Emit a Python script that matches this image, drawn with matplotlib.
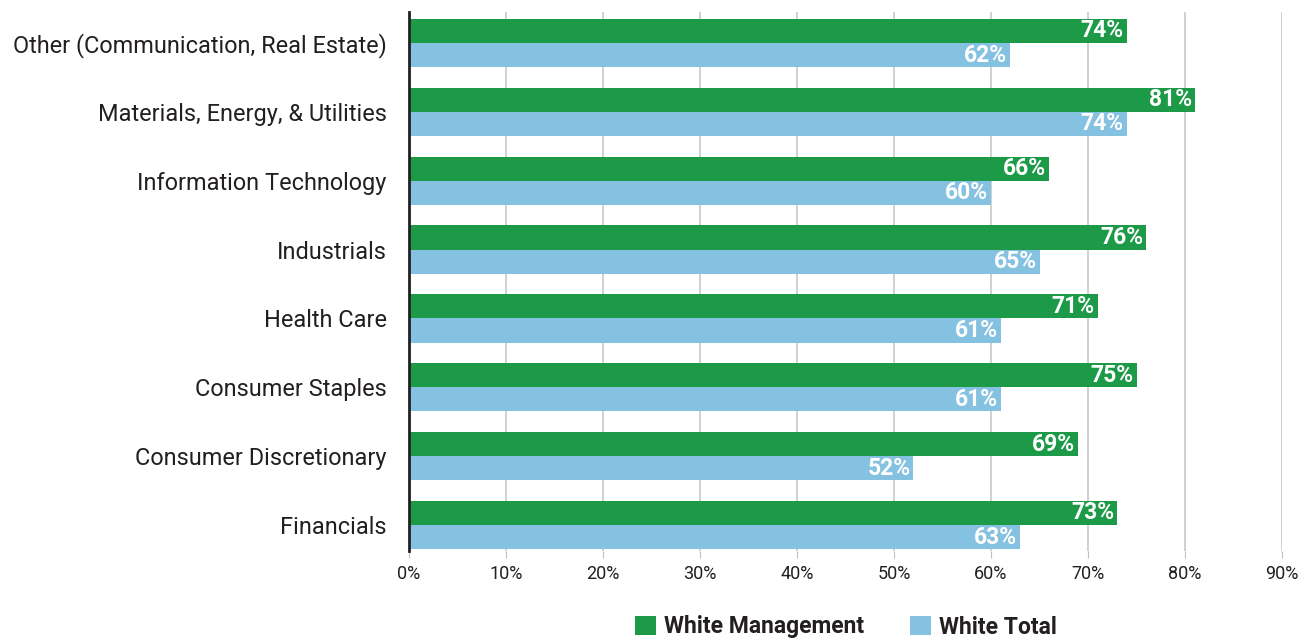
import matplotlib.pyplot as plt
import numpy as np

# sector shares, listed bottom to top
categories = ["Financials", "Consumer Discretionary", "Consumer Staples", "Health Care",
              "Industrials", "Information Technology", "Materials, Energy, & Utilities",
              "Other (Communication, Real Estate)"]
white_management = [73, 69, 75, 71, 76, 66, 81, 74]
white_total = [63, 52, 61, 61, 65, 60, 74, 62]
xticks = [0, 10, 20, 30, 40, 50, 60, 70, 80, 90]

GREEN = "#1c9a48"
BLUE = "#85c1e0"
TEXT = "#231f20"

plt.rcParams['font.family'] = ['Roboto', 'DejaVu Sans']

fig = plt.figure(figsize=(13.14, 6.4), dpi=100)
ax = fig.add_axes([409 / 1314, 1 - 551 / 640, (1282 - 409) / 1314, (551 - 12) / 640])

y = np.arange(len(categories))
h = 0.35
b1 = ax.barh(y + h / 2, white_management, height=h, color=GREEN, label="White Management", zorder=3)
b2 = ax.barh(y - h / 2, white_total, height=h, color=BLUE, label="White Total", zorder=3)

for bars, vals in ((b1, white_management), (b2, white_total)):
    for bar, v in zip(bars, vals):
        ax.text(v - 0.3, bar.get_y() + bar.get_height() / 2, f"{v}%", ha='right', va='center',
                color='white', fontsize=16.5, fontweight='bold', zorder=4)

ax.set_xlim(0, 90)
ax.set_ylim(-0.378, 7.45)
ax.set_xticks(xticks)
ax.set_xticklabels([f"{t}%" for t in xticks], fontsize=13, color=TEXT)
ax.set_yticks(y)
ax.set_yticklabels(categories, fontsize=16.9, color=TEXT)
ax.tick_params(axis='y', length=0, pad=16)
ax.tick_params(axis='x', length=5, color='#c0c0c0', pad=5)

ax.grid(axis='x', color='#c8c8c8', linewidth=1.2, zorder=0)
for s in ('top', 'right', 'bottom'):
    ax.spines[s].set_visible(False)
ax.spines['left'].set_color(TEXT)
ax.spines['left'].set_linewidth(2)
ax.spines['left'].set_zorder(5)

fig.legend(handles=[b1, b2], loc='center', bbox_to_anchor=(846 / 1314, 1 - 627 / 640),
           ncol=2, frameon=False, prop={'size': 16.5, 'weight': 'bold'},
           handlelength=0.9, handleheight=0.9, handletextpad=0.35, columnspacing=2.0,
           labelcolor=TEXT)

fig.savefig("out.png", dpi=100)
